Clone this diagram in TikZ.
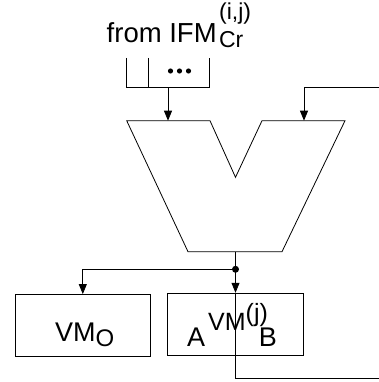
\documentclass[tikz,border=0pt]{standalone}
\usepackage{fontspec}
\setmainfont{Liberation Sans}
\usetikzlibrary{arrows.meta,positioning}

\tikzset{
  wire/.style={line width=0.8pt},
  sig/.style={wire,-{Triangle[length=10pt,width=8pt]}},
  vmbox/.style={draw,wire,minimum width=135.5pt,minimum height=62pt,inner sep=0pt},
  lbl/.style={inner sep=0pt,font=\fontsize{27.5}{32}\selectfont},
  slbl/.style={inner sep=0pt,font=\fontsize{23}{26}\selectfont},
}
\newcommand{\fs}[1]{\fontsize{#1}{#1}\selectfont}

\begin{document}
\begin{tikzpicture}[x=1pt,y=-1pt]
	\useasboundingbox (0,0) rectangle (379,382);

	% input label and buffer
	\node (src)[lbl,anchor=base west] at (106.5,43) {from IFM};
	\node (srcsup)[slbl,anchor=base west] at ([xshift=2pt,yshift=23.5pt]src.base east) {(i,j)};
	\node (srcsub)[slbl,anchor=base west] at ([xshift=2pt,yshift=-5pt]src.base east) {Cr};

	\draw[wire] (126.7,58) -- (126.7,87.5) -- (209,87.5) -- (209,58);
	\draw[wire] (148.3,58) -- (148.3,87.5);
	\fill (170.5,71) circle (2.6);
	\fill (179.5,71) circle (2.6);
	\fill (188.5,71) circle (2.6);
	\coordinate (bufout) at (168,87.5);

	% the two-input multiplexer
	\draw[wire] (126.7,120.7) -- (210,120.7) -- (235.5,177.3) -- (262,120.7)
		-- (345,120.7) -- (282,251.7) -- (188,251.7) -- cycle;
	\coordinate (in1) at (168,120.7);
	\coordinate (in2) at (304,120.7);
	\coordinate (mout) at (235.5,251.7);

	% feedback in / out (leave the frame on the right)
	\coordinate (fbin) at (380,87.7);
	\coordinate (fbout) at (380,378.3);

	% value memories
	\node (vmo)[vmbox] at (82.8,325.5) {};
	\node (vmolbl)[inner sep=0pt,anchor=base west] at (55,341)
		{\fs{27}VM\raisebox{-5pt}{\fs{24}O}};
	\node (vma)[vmbox] at (235.5,324.2) {};
	\node (vmalbl)[inner sep=0pt,anchor=base west] at (187,346)
		{\fs{27}A\kern3pt\raisebox{16pt}{\fs{25}VM}\raisebox{25pt}{\fs{25}(j)}\kern-9pt B};

	\coordinate (split) at (235.5,269.3);

	\draw[sig] (bufout) -- (in1);
	\draw[sig] (fbin) -| (in2);
	\draw[wire] (mout) -- (split);
	\fill (split) circle (3.5);
	\draw[sig] (split) -| (vmo.north);
	\draw[sig] (split) -- (vma.north);
	\draw[wire] (vma.north) |- (fbout);

\end{tikzpicture}
\end{document}
